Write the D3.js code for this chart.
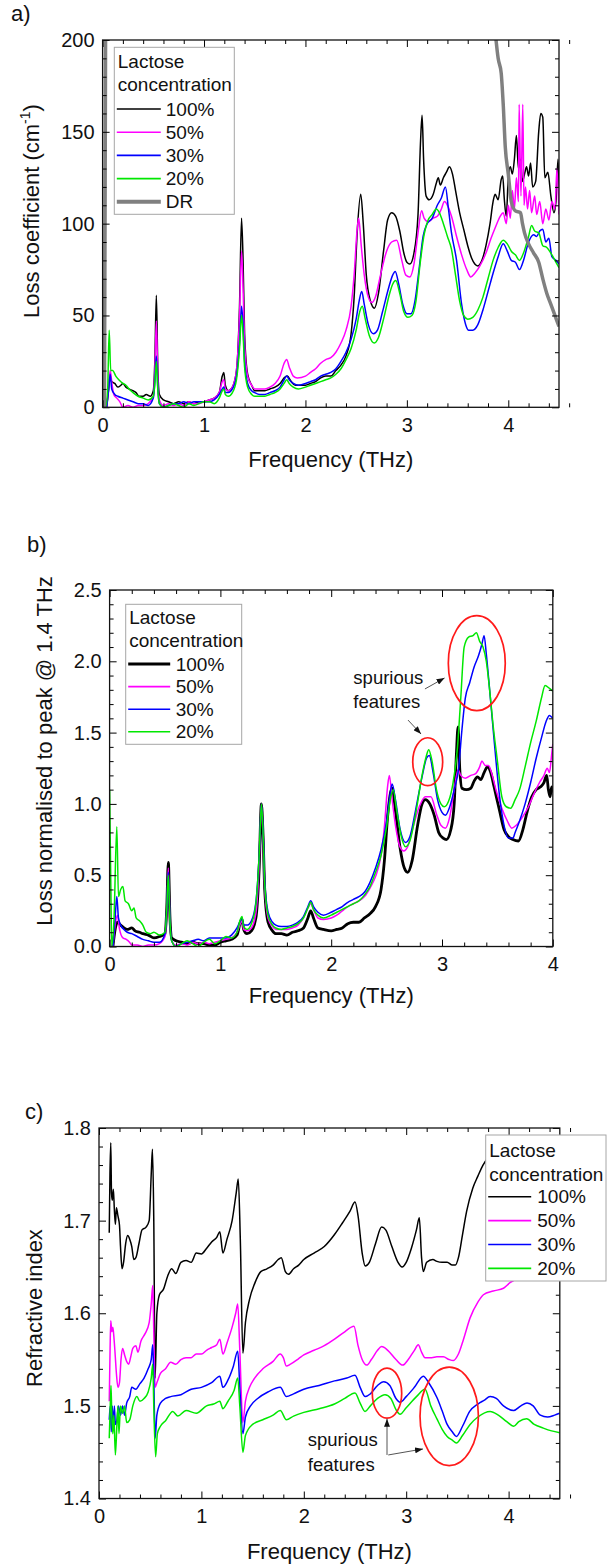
<!DOCTYPE html>
<html>
<head>
<meta charset="utf-8">
<script src="https://cdn.jsdelivr.net/npm/d3@7"></script>
<style>
  body { margin: 0; background: #fff; }
  svg { display: block; }
</style>
</head>
<body>
<svg id="fig" width="607" height="1568"></svg>
<script>
// ---------------- data ----------------
const concentrations = ["100%", "50%", "30%", "20%"];
const legendTitle = ["Lactose", "concentration"];

// (a) loss coefficient, cm^-1, vs frequency (THz)
const lossA100 = [[0.04,0],[0.06,10],[0.07,16],[0.09,14],[0.12,13],[0.15,11],[0.18,12],[0.2,13],[0.23,11],[0.26,10],[0.3,9],[0.33,8],[0.36,6],[0.4,6],[0.43,7],[0.47,6],[0.5,9],[0.515,25],[0.53,61],[0.545,20],[0.56,7],[0.6,4],[0.65,3],[0.7,2],[0.75,3],[0.8,2],[0.85,3],[0.9,2],[0.95,3],[1.0,3],[1.05,4],[1.1,5],[1.15,8],[1.18,17],[1.195,19],[1.21,12],[1.24,9],[1.28,11],[1.32,20],[1.35,55],[1.37,103],[1.385,80],[1.4,40],[1.43,18],[1.47,12],[1.5,9],[1.55,9],[1.6,9],[1.65,10],[1.7,11],[1.75,13],[1.79,16],[1.82,17],[1.86,14],[1.9,12],[1.95,12],[2.0,12],[2.05,13],[2.1,14],[2.15,16],[2.2,17],[2.25,17],[2.3,20],[2.35,23],[2.4,28],[2.45,40],[2.48,60],[2.51,95],[2.545,116],[2.57,100],[2.6,72],[2.64,58],[2.68,54],[2.72,62],[2.77,85],[2.81,102],[2.85,106],[2.89,104],[2.93,96],[2.97,84],[3.0,79],[3.03,78],[3.07,84],[3.11,105],[3.135,145],[3.15,159],[3.165,135],[3.19,115],[3.22,113],[3.26,116],[3.29,122],[3.31,125],[3.33,121],[3.36,125],[3.39,128],[3.42,131],[3.45,127],[3.48,118],[3.52,106],[3.56,97],[3.6,88],[3.64,81],[3.67,78],[3.7,77],[3.74,80],[3.78,88],[3.82,100],[3.85,112],[3.87,116],[3.9,113],[3.93,124],[3.945,126],[3.96,114],[3.98,104],[4.0,125],[4.02,131],[4.04,127],[4.06,135],[4.08,148],[4.1,130],[4.12,135],[4.14,123],[4.16,127],[4.18,131],[4.2,126],[4.22,133],[4.24,120],[4.27,123],[4.3,150],[4.32,160],[4.34,158],[4.36,125],[4.39,128],[4.42,115],[4.45,106],[4.47,112],[4.49,135],[4.5,120]];
const lossA50 = [[0.04,0],[0.06,12],[0.075,20],[0.09,14],[0.11,7],[0.14,5],[0.17,3],[0.2,0],[0.25,1],[0.3,0],[0.35,1],[0.4,1],[0.45,2],[0.5,6],[0.515,20],[0.53,47],[0.545,15],[0.56,4],[0.6,1],[0.65,2],[0.7,1],[0.75,2],[0.8,1],[0.85,3],[0.9,2],[0.95,2],[1.0,3],[1.05,4],[1.1,5],[1.15,8],[1.18,14],[1.195,15],[1.21,10],[1.24,9],[1.28,11],[1.32,20],[1.35,50],[1.37,85],[1.385,65],[1.4,35],[1.43,17],[1.47,12],[1.5,10],[1.55,10],[1.6,10],[1.65,11],[1.7,13],[1.75,17],[1.79,24],[1.815,26],[1.84,22],[1.88,17],[1.92,16],[2.0,17],[2.05,19],[2.1,21],[2.15,24],[2.2,26],[2.25,27],[2.3,30],[2.35,35],[2.4,42],[2.45,55],[2.48,72],[2.51,97],[2.525,103],[2.55,88],[2.58,72],[2.62,60],[2.655,57],[2.69,60],[2.74,72],[2.8,85],[2.85,90],[2.9,91],[2.95,80],[2.99,72],[3.03,71],[3.07,78],[3.11,95],[3.145,107],[3.17,103],[3.21,101],[3.26,103],[3.3,104],[3.34,108],[3.37,112],[3.4,110],[3.44,104],[3.49,93],[3.54,83],[3.59,75],[3.63,71],[3.67,73],[3.72,77],[3.78,84],[3.83,92],[3.88,99],[3.92,104],[3.95,106],[3.98,100],[4.0,110],[4.02,103],[4.04,118],[4.06,108],[4.08,125],[4.1,112],[4.107,165],[4.125,115],[4.143,165],[4.155,110],[4.17,120],[4.19,108],[4.21,118],[4.23,106],[4.26,115],[4.28,105],[4.31,112],[4.34,100],[4.37,108],[4.4,102],[4.43,112],[4.46,108],[4.48,130],[4.5,105]];
const lossA30 = [[0.04,0],[0.06,10],[0.075,18],[0.09,10],[0.12,7],[0.15,6],[0.2,5],[0.25,4],[0.3,3],[0.35,2],[0.4,2],[0.45,1],[0.5,5],[0.515,14],[0.53,28],[0.545,10],[0.56,2],[0.6,0],[0.65,1],[0.7,2],[0.75,2],[0.8,3],[0.85,2],[0.9,3],[0.95,3],[1.0,3],[1.05,3],[1.1,4],[1.15,7],[1.18,10],[1.195,11],[1.21,8],[1.24,8],[1.28,10],[1.32,17],[1.35,35],[1.37,55],[1.385,45],[1.4,25],[1.43,13],[1.47,9],[1.5,8],[1.55,7],[1.6,7],[1.65,8],[1.7,9],[1.75,11],[1.79,15],[1.815,17],[1.84,15],[1.88,13],[1.93,12],[2.0,13],[2.05,14],[2.1,15],[2.15,17],[2.2,18],[2.25,19],[2.3,21],[2.35,25],[2.4,30],[2.45,37],[2.5,48],[2.53,58],[2.555,63],[2.58,56],[2.62,45],[2.67,40],[2.71,42],[2.76,52],[2.82,65],[2.86,72],[2.885,74],[2.92,67],[2.96,56],[3.0,51],[3.04,51],[3.08,58],[3.12,75],[3.16,93],[3.2,100],[3.25,103],[3.3,110],[3.34,114],[3.38,120],[3.41,108],[3.44,95],[3.49,80],[3.54,56],[3.58,45],[3.61,42],[3.65,42],[3.7,45],[3.75,53],[3.8,63],[3.85,73],[3.9,82],[3.95,89],[3.99,85],[4.03,80],[4.07,79],[4.11,75],[4.15,80],[4.2,90],[4.25,94],[4.28,93],[4.31,96],[4.34,97],[4.37,90],[4.4,92],[4.43,82],[4.47,80],[4.5,78]];
const lossA20 = [[0.0,18],[0.02,5],[0.03,0],[0.05,10],[0.065,42],[0.08,20],[0.1,20],[0.13,17],[0.16,15],[0.2,13],[0.23,12],[0.26,10],[0.3,8],[0.35,6],[0.4,5],[0.45,4],[0.5,6],[0.515,13],[0.53,25],[0.545,9],[0.56,2],[0.6,0],[0.65,1],[0.7,2],[0.75,1],[0.8,0],[0.85,2],[0.9,1],[0.95,2],[1.0,3],[1.05,3],[1.1,2],[1.15,5],[1.18,9],[1.195,10],[1.21,7],[1.24,6],[1.28,8],[1.32,15],[1.35,32],[1.37,50],[1.385,40],[1.4,22],[1.43,11],[1.47,7],[1.5,6],[1.55,6],[1.6,6],[1.65,7],[1.7,8],[1.75,10],[1.79,13],[1.815,15],[1.84,13],[1.88,11],[1.93,10],[2.0,11],[2.05,12],[2.1,13],[2.15,14],[2.2,15],[2.25,16],[2.3,18],[2.35,21],[2.4,26],[2.45,32],[2.5,42],[2.535,52],[2.56,55],[2.59,48],[2.63,39],[2.68,35],[2.72,38],[2.77,48],[2.83,62],[2.86,67],[2.89,69],[2.93,62],[2.97,52],[3.01,49],[3.05,50],[3.09,58],[3.13,78],[3.17,94],[3.21,102],[3.25,105],[3.29,108],[3.32,106],[3.36,100],[3.4,93],[3.44,86],[3.48,72],[3.52,58],[3.56,50],[3.6,48],[3.65,49],[3.7,53],[3.75,60],[3.8,70],[3.85,80],[3.9,87],[3.95,91],[3.99,89],[4.03,85],[4.07,83],[4.11,80],[4.15,84],[4.2,93],[4.23,99],[4.26,96],[4.3,95],[4.34,88],[4.38,87],[4.42,84],[4.46,80],[4.5,76]];
// dynamic range: steep rise at the low end, falling edge at the high end
const drLow = [[0.018,0],[0.024,100],[0.03,215]];
const drHigh = [[3.87,205],[3.9,190],[3.93,182],[3.95,165],[3.97,142],[4.0,127],[4.03,112],[4.07,107],[4.12,106],[4.14,100],[4.16,95],[4.2,89],[4.25,84],[4.3,79],[4.34,70],[4.38,62],[4.42,56],[4.46,50],[4.5,44]];

// (b) loss normalised to the 1.4 THz peak
const normB100 = [[0.03,0],[0.05,0.12],[0.07,0.17],[0.1,0.15],[0.13,0.13],[0.16,0.12],[0.2,0.13],[0.23,0.11],[0.27,0.1],[0.3,0.09],[0.35,0.08],[0.4,0.06],[0.45,0.07],[0.5,0.09],[0.515,0.25],[0.53,0.59],[0.545,0.2],[0.56,0.06],[0.6,0.04],[0.65,0.03],[0.7,0.02],[0.75,0.03],[0.8,0.02],[0.85,0.02],[0.9,0.01],[0.95,0.01],[1.0,0.03],[1.05,0.04],[1.1,0.05],[1.15,0.08],[1.18,0.17],[1.195,0.19],[1.21,0.12],[1.24,0.09],[1.28,0.11],[1.32,0.2],[1.35,0.55],[1.37,1.0],[1.385,0.78],[1.4,0.4],[1.43,0.17],[1.47,0.11],[1.5,0.09],[1.55,0.09],[1.6,0.08],[1.65,0.1],[1.7,0.11],[1.75,0.13],[1.79,0.2],[1.815,0.25],[1.84,0.2],[1.88,0.13],[1.93,0.12],[2.0,0.11],[2.05,0.12],[2.1,0.13],[2.15,0.16],[2.2,0.17],[2.25,0.17],[2.3,0.2],[2.35,0.23],[2.4,0.28],[2.45,0.4],[2.48,0.6],[2.51,0.92],[2.55,1.11],[2.58,0.95],[2.62,0.7],[2.66,0.55],[2.69,0.52],[2.73,0.6],[2.78,0.85],[2.82,1.0],[2.85,1.03],[2.89,1.0],[2.93,0.92],[2.97,0.8],[3.01,0.76],[3.04,0.75],[3.08,0.82],[3.11,1.0],[3.13,1.35],[3.145,1.54],[3.16,1.25],[3.18,1.11],[3.22,1.1],[3.26,1.11],[3.29,1.16],[3.32,1.19],[3.35,1.17],[3.38,1.22],[3.41,1.26],[3.44,1.22],[3.47,1.12],[3.52,0.95],[3.56,0.82],[3.6,0.77],[3.64,0.75],[3.69,0.74],[3.73,0.82],[3.77,0.95],[3.81,1.05],[3.85,1.1],[3.89,1.12],[3.92,1.15],[3.945,1.2],[3.96,1.1],[3.975,1.05],[3.99,1.12],[4.0,1.08]];
const normB50 = [[0.03,0],[0.05,0.15],[0.07,0.22],[0.09,0.12],[0.12,0.06],[0.15,0.05],[0.18,0.03],[0.2,0.01],[0.25,0.01],[0.3,0],[0.35,0.01],[0.4,0.01],[0.45,0.02],[0.5,0.07],[0.515,0.23],[0.53,0.55],[0.545,0.17],[0.56,0.04],[0.6,0.01],[0.65,0.02],[0.7,0.01],[0.75,0.03],[0.8,0.02],[0.85,0.03],[0.9,0.02],[0.95,0.03],[1.0,0.04],[1.05,0.05],[1.1,0.06],[1.15,0.1],[1.18,0.16],[1.195,0.18],[1.21,0.12],[1.24,0.11],[1.28,0.13],[1.32,0.23],[1.35,0.58],[1.37,1.0],[1.385,0.76],[1.4,0.41],[1.43,0.2],[1.47,0.14],[1.5,0.12],[1.55,0.12],[1.6,0.12],[1.65,0.13],[1.7,0.15],[1.75,0.2],[1.79,0.27],[1.815,0.3],[1.84,0.26],[1.88,0.2],[1.93,0.19],[2.0,0.2],[2.05,0.22],[2.1,0.25],[2.15,0.28],[2.2,0.3],[2.25,0.32],[2.3,0.35],[2.35,0.41],[2.4,0.49],[2.45,0.64],[2.48,0.84],[2.51,1.13],[2.525,1.2],[2.55,1.03],[2.58,0.85],[2.62,0.7],[2.655,0.67],[2.69,0.7],[2.74,0.84],[2.8,0.99],[2.85,1.05],[2.9,1.05],[2.95,0.93],[2.99,0.85],[3.03,0.83],[3.07,0.91],[3.11,1.1],[3.145,1.24],[3.17,1.2],[3.21,1.18],[3.26,1.2],[3.3,1.21],[3.34,1.26],[3.36,1.3],[3.39,1.27],[3.42,1.27],[3.45,1.21],[3.49,1.09],[3.54,0.97],[3.59,0.88],[3.63,0.83],[3.67,0.85],[3.72,0.9],[3.78,0.98],[3.83,1.07],[3.88,1.15],[3.92,1.2],[3.95,1.25],[3.97,1.22],[3.99,1.35],[4.0,1.42]];
const normB30 = [[0.03,0],[0.05,0.2],[0.065,0.35],[0.08,0.2],[0.1,0.15],[0.13,0.12],[0.16,0.1],[0.2,0.09],[0.25,0.07],[0.3,0.05],[0.35,0.04],[0.4,0.03],[0.45,0.03],[0.5,0.09],[0.515,0.25],[0.53,0.52],[0.545,0.18],[0.56,0.04],[0.6,0.0],[0.65,0.02],[0.7,0.03],[0.75,0.04],[0.8,0.05],[0.85,0.04],[0.9,0.06],[0.95,0.06],[1.0,0.06],[1.05,0.06],[1.1,0.08],[1.15,0.13],[1.18,0.18],[1.195,0.2],[1.21,0.15],[1.24,0.15],[1.28,0.18],[1.32,0.31],[1.35,0.64],[1.37,1.0],[1.385,0.82],[1.4,0.46],[1.43,0.24],[1.47,0.17],[1.5,0.15],[1.55,0.14],[1.6,0.14],[1.65,0.15],[1.7,0.17],[1.75,0.21],[1.79,0.28],[1.815,0.32],[1.84,0.28],[1.88,0.24],[1.93,0.22],[2.0,0.24],[2.05,0.26],[2.1,0.28],[2.15,0.31],[2.2,0.33],[2.25,0.35],[2.3,0.38],[2.35,0.45],[2.4,0.55],[2.45,0.68],[2.5,0.88],[2.53,1.06],[2.55,1.14],[2.58,1.03],[2.62,0.83],[2.67,0.73],[2.71,0.77],[2.76,0.95],[2.82,1.19],[2.86,1.32],[2.885,1.34],[2.92,1.22],[2.96,1.03],[3.0,0.94],[3.03,0.92],[3.07,0.98],[3.11,1.1],[3.15,1.25],[3.18,1.52],[3.21,1.74],[3.25,1.85],[3.29,1.96],[3.33,2.04],[3.36,2.12],[3.38,2.18],[3.4,2.05],[3.43,1.8],[3.47,1.45],[3.52,1.05],[3.56,0.85],[3.6,0.76],[3.64,0.76],[3.66,0.8],[3.7,0.88],[3.75,1.0],[3.8,1.15],[3.85,1.32],[3.9,1.47],[3.94,1.58],[3.97,1.62],[4.0,1.6]];
const normB20 = [[0.0,1.1],[0.01,0.5],[0.02,0.0],[0.04,0.2],[0.065,0.84],[0.08,0.35],[0.1,0.4],[0.12,0.42],[0.14,0.32],[0.17,0.3],[0.2,0.25],[0.22,0.27],[0.24,0.2],[0.27,0.18],[0.3,0.15],[0.33,0.1],[0.37,0.09],[0.4,0.1],[0.45,0.08],[0.5,0.1],[0.515,0.25],[0.53,0.5],[0.545,0.17],[0.56,0.04],[0.6,0.0],[0.65,0.02],[0.7,0.04],[0.75,0.02],[0.8,0.0],[0.85,0.03],[0.9,0.05],[0.95,0.02],[1.0,0.04],[1.05,0.07],[1.1,0.06],[1.15,0.1],[1.18,0.19],[1.195,0.21],[1.21,0.14],[1.24,0.12],[1.28,0.16],[1.32,0.3],[1.35,0.64],[1.37,1.0],[1.385,0.8],[1.4,0.44],[1.43,0.22],[1.47,0.15],[1.5,0.13],[1.55,0.12],[1.6,0.13],[1.65,0.14],[1.7,0.16],[1.75,0.2],[1.79,0.27],[1.815,0.31],[1.84,0.26],[1.88,0.22],[1.93,0.2],[2.0,0.22],[2.05,0.24],[2.1,0.26],[2.15,0.28],[2.2,0.3],[2.25,0.32],[2.3,0.36],[2.35,0.42],[2.4,0.52],[2.45,0.64],[2.5,0.84],[2.535,1.04],[2.56,1.1],[2.59,0.96],[2.63,0.78],[2.67,0.7],[2.71,0.74],[2.76,0.92],[2.82,1.2],[2.86,1.34],[2.88,1.38],[2.91,1.3],[2.95,1.1],[2.99,1.0],[3.02,0.98],[3.06,1.02],[3.1,1.15],[3.14,1.4],[3.17,1.75],[3.2,2.1],[3.24,2.17],[3.28,2.18],[3.31,2.2],[3.34,2.14],[3.37,2.1],[3.4,2.0],[3.43,1.8],[3.46,1.56],[3.5,1.3],[3.54,1.05],[3.58,0.98],[3.62,0.97],[3.66,1.03],[3.7,1.1],[3.75,1.26],[3.8,1.43],[3.85,1.58],[3.9,1.75],[3.93,1.83],[3.97,1.81],[4.0,1.79]];

// (c) refractive index
const indexC100 = [[0.1,1.687],[0.107,1.75],[0.115,1.784],[0.122,1.73],[0.13,1.722],[0.14,1.734],[0.15,1.712],[0.16,1.696],[0.17,1.714],[0.185,1.705],[0.2,1.695],[0.21,1.672],[0.225,1.648],[0.24,1.655],[0.26,1.675],[0.28,1.684],[0.3,1.68],[0.32,1.672],[0.34,1.658],[0.36,1.66],[0.39,1.675],[0.42,1.69],[0.46,1.693],[0.49,1.7],[0.51,1.75],[0.522,1.777],[0.535,1.7],[0.548,1.53],[0.565,1.6],[0.59,1.62],[0.63,1.626],[0.67,1.64],[0.71,1.648],[0.75,1.643],[0.8,1.655],[0.85,1.657],[0.9,1.655],[0.95,1.665],[1.0,1.664],[1.05,1.67],[1.1,1.677],[1.15,1.682],[1.18,1.688],[1.21,1.665],[1.25,1.68],[1.3,1.7],[1.34,1.73],[1.36,1.745],[1.38,1.68],[1.405,1.557],[1.43,1.59],[1.47,1.615],[1.52,1.632],[1.58,1.645],[1.64,1.648],[1.7,1.652],[1.75,1.658],[1.78,1.66],[1.82,1.645],[1.85,1.642],[1.9,1.648],[1.95,1.652],[2.0,1.658],[2.1,1.665],[2.2,1.672],[2.3,1.685],[2.38,1.698],[2.45,1.71],[2.5,1.72],[2.53,1.705],[2.57,1.665],[2.6,1.651],[2.64,1.655],[2.7,1.675],[2.76,1.693],[2.8,1.69],[2.86,1.672],[2.92,1.655],[2.96,1.65],[3.0,1.655],[3.05,1.67],[3.1,1.69],[3.128,1.703],[3.15,1.66],[3.167,1.645],[3.2,1.655],[3.26,1.658],[3.3,1.656],[3.35,1.655],[3.4,1.655],[3.45,1.652],[3.48,1.652],[3.51,1.66],[3.55,1.685],[3.59,1.71],[3.65,1.735],[3.7,1.748],[3.75,1.76],[3.8,1.768],[3.9,1.775],[4.0,1.78],[4.2,1.785],[4.5,1.79]];
const indexC50 = [[0.1,1.505],[0.108,1.56],[0.115,1.592],[0.125,1.58],[0.135,1.585],[0.145,1.575],[0.155,1.56],[0.17,1.535],[0.185,1.52],[0.2,1.525],[0.215,1.55],[0.23,1.562],[0.25,1.555],[0.27,1.548],[0.29,1.545],[0.31,1.553],[0.33,1.562],[0.36,1.565],[0.38,1.558],[0.41,1.57],[0.45,1.578],[0.49,1.59],[0.51,1.61],[0.525,1.63],[0.535,1.58],[0.548,1.52],[0.565,1.525],[0.6,1.535],[0.65,1.54],[0.7,1.547],[0.75,1.545],[0.8,1.55],[0.85,1.552],[0.9,1.552],[0.95,1.556],[1.0,1.556],[1.05,1.56],[1.1,1.563],[1.15,1.566],[1.18,1.572],[1.21,1.556],[1.25,1.568],[1.3,1.585],[1.335,1.6],[1.355,1.61],[1.375,1.56],[1.405,1.482],[1.43,1.505],[1.47,1.52],[1.52,1.53],[1.6,1.54],[1.7,1.548],[1.77,1.556],[1.8,1.552],[1.83,1.543],[1.87,1.545],[1.95,1.551],[2.0,1.555],[2.1,1.56],[2.2,1.565],[2.3,1.572],[2.4,1.58],[2.49,1.586],[2.53,1.565],[2.57,1.55],[2.614,1.544],[2.66,1.55],[2.72,1.56],[2.76,1.564],[2.82,1.56],[2.9,1.55],[2.966,1.544],[3.02,1.55],[3.08,1.56],[3.118,1.566],[3.15,1.558],[3.184,1.552],[3.25,1.552],[3.3,1.553],[3.363,1.553],[3.42,1.55],[3.461,1.549],[3.51,1.556],[3.56,1.572],[3.624,1.595],[3.7,1.612],[3.754,1.62],[3.85,1.624],[3.95,1.627],[4.014,1.633],[4.06,1.636],[4.2,1.645],[4.5,1.66]];
const indexC30 = [[0.1,1.485],[0.11,1.5],[0.12,1.472],[0.13,1.5],[0.14,1.475],[0.15,1.5],[0.16,1.48],[0.175,1.485],[0.19,1.5],[0.21,1.49],[0.23,1.5],[0.25,1.49],[0.27,1.503],[0.3,1.51],[0.32,1.52],[0.36,1.518],[0.4,1.524],[0.44,1.53],[0.48,1.54],[0.51,1.55],[0.525,1.566],[0.535,1.53],[0.548,1.465],[0.565,1.49],[0.6,1.503],[0.65,1.508],[0.7,1.51],[0.8,1.512],[0.9,1.518],[1.0,1.52],[1.1,1.525],[1.18,1.532],[1.21,1.52],[1.26,1.528],[1.31,1.542],[1.355,1.559],[1.375,1.52],[1.405,1.47],[1.43,1.488],[1.48,1.5],[1.55,1.508],[1.65,1.515],[1.77,1.52],[1.83,1.51],[1.9,1.513],[2.0,1.518],[2.15,1.522],[2.3,1.527],[2.42,1.53],[2.5,1.533],[2.55,1.52],[2.6,1.51],[2.65,1.513],[2.72,1.522],[2.78,1.526],[2.84,1.522],[2.9,1.508],[2.94,1.504],[3.0,1.51],[3.08,1.52],[3.167,1.532],[3.22,1.525],[3.3,1.509],[3.35,1.495],[3.4,1.48],[3.45,1.472],[3.49,1.467],[3.55,1.478],[3.62,1.494],[3.7,1.502],[3.76,1.506],[3.82,1.51],[3.88,1.508],[3.95,1.5],[4.05,1.495],[4.12,1.5],[4.18,1.503],[4.24,1.5],[4.31,1.49],[4.38,1.488],[4.45,1.49],[4.5,1.492]];
const indexC20 = [[0.1,1.465],[0.11,1.5],[0.117,1.522],[0.125,1.49],[0.135,1.47],[0.145,1.49],[0.16,1.447],[0.175,1.48],[0.185,1.5],[0.195,1.47],[0.21,1.5],[0.23,1.492],[0.25,1.5],[0.27,1.482],[0.3,1.485],[0.33,1.5],[0.37,1.51],[0.4,1.505],[0.44,1.508],[0.48,1.515],[0.51,1.53],[0.525,1.545],[0.535,1.5],[0.553,1.445],[0.57,1.47],[0.6,1.478],[0.65,1.484],[0.72,1.494],[0.77,1.489],[0.85,1.495],[0.95,1.492],[1.05,1.5],[1.12,1.502],[1.18,1.505],[1.21,1.497],[1.26,1.505],[1.32,1.517],[1.355,1.53],[1.375,1.5],[1.405,1.45],[1.43,1.468],[1.5,1.48],[1.6,1.485],[1.7,1.49],[1.77,1.495],[1.83,1.485],[1.9,1.489],[2.0,1.493],[2.15,1.497],[2.3,1.502],[2.4,1.508],[2.5,1.514],[2.55,1.503],[2.598,1.494],[2.65,1.5],[2.72,1.508],[2.793,1.512],[2.85,1.508],[2.9,1.496],[2.94,1.491],[3.0,1.498],[3.1,1.51],[3.184,1.518],[3.24,1.5],[3.3,1.486],[3.35,1.475],[3.4,1.467],[3.45,1.463],[3.49,1.46],[3.55,1.468],[3.624,1.48],[3.7,1.488],[3.82,1.494],[3.9,1.49],[3.982,1.483],[4.05,1.478],[4.1,1.483],[4.176,1.486],[4.25,1.48],[4.339,1.476],[4.42,1.473],[4.5,1.471]];

// tick values
const ticksA_x = [0, 1, 2, 3, 4];
const ticksA_y = [0, 50, 100, 150, 200];
const ticksB_x = [0, 1, 2, 3, 4];
const ticksB_y = [0, 0.5, 1.0, 1.5, 2.0, 2.5];
const ticksC_x = [0, 1, 2, 3, 4];
const ticksC_y = [1.4, 1.5, 1.6, 1.7, 1.8];

// ---------------- styles ----------------
const FONT = "'Liberation Sans', Arial, Helvetica, sans-serif";
const COLORS = { "100%": "#000000", "50%": "#ff00ff", "30%": "#0000ff", "20%": "#00e800", "DR": "#808080" };

const svg = d3.select("#fig");
svg.append("rect").attr("width", 607).attr("height", 1568).attr("fill", "#fff");
const defs = svg.append("defs");
defs.append("marker").attr("id", "arrowhead")
  .attr("viewBox", "0 0 8 6").attr("refX", 8).attr("refY", 3)
  .attr("markerWidth", 8).attr("markerHeight", 6)
  .attr("markerUnits", "userSpaceOnUse").attr("orient", "auto")
  .append("path").attr("d", "M0,0 L8,3 L0,6 Z").attr("fill", "#111");

const minorTicks = (lo, hi, step, majors) =>
  d3.range(Math.round((hi - lo) / step) + 1).map(i => lo + i * step)
    .filter(v => !majors.some(m => Math.abs(m - v) < step / 10));

function drawPanel(p) {
  const b = p.box;
  const x = d3.scaleLinear().domain(p.xDomain).range([b.left, b.right]);
  const y = d3.scaleLinear().domain(p.yDomain).range([b.bottom, b.top]);
  const g = svg.append("g");

  defs.append("clipPath").attr("id", "clip-" + p.id)
    .append("rect").attr("x", b.left).attr("y", b.top)
    .attr("width", b.right - b.left).attr("height", b.bottom - b.top);

  const line = d3.line().x(d => x(d[0])).y(d => y(d[1])).curve(d3.curveMonotoneX);
  const plot = g.append("g").attr("clip-path", `url(#clip-${p.id})`);
  p.series.forEach(s => {
    plot.append("path").datum(s.values)
      .attr("fill", "none").attr("stroke", s.color).attr("stroke-width", s.width)
      .attr("stroke-linejoin", "round").attr("d", line);
  });

  const addAxis = (gen, tx, ty) => g.append("g")
    .attr("transform", `translate(${tx},${ty})`).call(gen)
    .call(a => a.select(".domain").remove())
    .attr("font-size", 20).attr("font-family", FONT)
    .call(a => a.selectAll("text").attr("fill", "#111"));

  const xMin = minorTicks(p.xDomain[0], p.xDomain[1], p.xMinorStep, p.xTicks);
  const yMin = minorTicks(p.yDomain[0], p.yDomain[1], p.yMinorStep, p.yTicks);

  addAxis(d3.axisBottom(x).tickValues(p.xTicks).tickSizeInner(-7).tickSizeOuter(0).tickPadding(10.5).tickFormat(d3.format("d")), 0, b.bottom);
  addAxis(d3.axisBottom(x).tickValues(xMin).tickSizeInner(-4).tickSizeOuter(0).tickFormat(""), 0, b.bottom);
  addAxis(d3.axisTop(x).tickValues(p.xTicks).tickSizeInner(-7).tickSizeOuter(0).tickFormat(""), 0, b.top);
  addAxis(d3.axisTop(x).tickValues(xMin).tickSizeInner(-4).tickSizeOuter(0).tickFormat(""), 0, b.top);
  addAxis(d3.axisLeft(y).tickValues(p.yTicks).tickSizeInner(-7).tickSizeOuter(0).tickPadding(8).tickFormat(p.yFormat), b.left, 0);
  addAxis(d3.axisLeft(y).tickValues(yMin).tickSizeInner(-4).tickSizeOuter(0).tickFormat(""), b.left, 0);
  addAxis(d3.axisRight(y).tickValues(p.yTicks).tickSizeInner(-7).tickSizeOuter(0).tickFormat(""), b.right, 0);
  addAxis(d3.axisRight(y).tickValues(yMin).tickSizeInner(-4).tickSizeOuter(0).tickFormat(""), b.right, 0);

  g.append("rect").attr("x", b.left).attr("y", b.top)
    .attr("width", b.right - b.left).attr("height", b.bottom - b.top)
    .attr("fill", "none").attr("stroke", "#111").attr("stroke-width", 1.3);

  // x title
  g.append("text").attr("x", (b.left + b.right) / 2).attr("y", p.xTitleY)
    .attr("text-anchor", "middle").attr("font-family", FONT).attr("font-size", 22)
    .attr("fill", "#111").text("Frequency (THz)");

  // y title
  const yt = g.append("text").attr("transform", `translate(${p.yTitle.x},${p.yTitle.y}) rotate(-90)`)
    .attr("text-anchor", "middle").attr("font-family", FONT).attr("font-size", 22).attr("fill", "#111");
  p.yTitle.parts.forEach(part => {
    const t = yt.append("tspan").text(part.text);
    if (part.sup) t.attr("font-size", 14).attr("dy", -9);
    if (part.after) t.attr("dy", 9);
  });

  // panel tag
  g.append("text").attr("x", p.tag.x).attr("y", p.tag.y)
    .attr("font-family", FONT).attr("font-size", 22).attr("fill", "#111").text(p.tag.text);

  // legend
  const L = p.legend;
  const lg = g.append("g");
  lg.append("rect").attr("x", L.x).attr("y", L.y).attr("width", L.w).attr("height", L.h)
    .attr("fill", "#fff").attr("stroke", "#a6a6a6").attr("stroke-width", 1);
  legendTitle.forEach((t, i) => {
    lg.append("text").attr("x", L.x + 3.5).attr("y", L.titleY[i])
      .attr("font-family", FONT).attr("font-size", 19).attr("fill", "#111").text(t);
  });
  L.items.forEach((it, i) => {
    const yy = L.firstY + i * L.step;
    lg.append("line").attr("x1", L.x + 2.5).attr("x2", L.x + 2.5 + L.lineLen)
      .attr("y1", yy).attr("y2", yy).attr("stroke", it.color).attr("stroke-width", it.width);
    lg.append("text").attr("x", L.x + L.textDx).attr("y", yy + 6.5)
      .attr("font-family", FONT).attr("font-size", 19).attr("fill", "#111").text(it.label);
  });

  return { x, y, g };
}

function annotate(panel, notes) {
  const { x, y, g } = panel;
  notes.ellipses.forEach(e => {
    g.append("ellipse")
      .attr("cx", x(e.f)).attr("cy", y(e.v))
      .attr("rx", x(e.f + e.df) - x(e.f)).attr("ry", y(e.v) - y(e.v + e.dv))
      .attr("fill", "none").attr("stroke", "#ff1a1a").attr("stroke-width", 1.7);
  });
  notes.text.forEach(t => {
    g.append("text").attr("x", x(t.f)).attr("y", y(t.v))
      .attr("font-family", FONT).attr("font-size", 18.5).attr("fill", "#111").text(t.text);
  });
  notes.arrows.forEach(a => {
    g.append("line")
      .attr("x1", x(a.from[0])).attr("y1", y(a.from[1]))
      .attr("x2", x(a.to[0])).attr("y2", y(a.to[1]))
      .attr("stroke", "#555").attr("stroke-width", 1)
      .attr("marker-end", "url(#arrowhead)");
  });
}

// ---------------- panel a ----------------
drawPanel({
  id: "a",
  box: { left: 102.6, right: 559, top: 40, bottom: 407.3 },
  xDomain: [0, 4.5], yDomain: [0, 200],
  xTicks: ticksA_x, yTicks: ticksA_y, xMinorStep: 0.2, yMinorStep: 10,
  yFormat: d3.format("d"),
  series: [
    { values: lossA100, color: COLORS["100%"], width: 1.5 },
    { values: lossA50, color: COLORS["50%"], width: 1.5 },
    { values: lossA30, color: COLORS["30%"], width: 1.5 },
    { values: lossA20, color: COLORS["20%"], width: 1.5 },
    { values: drLow, color: COLORS["DR"], width: 3.5 },
    { values: drHigh, color: COLORS["DR"], width: 3.5 }
  ],
  xTitleY: 466.5,
  yTitle: { x: 39, y: 211, parts: [{ text: "Loss coefficient (cm" }, { text: "-1", sup: true }, { text: ")", after: true }] },
  tag: { text: "a)", x: 11, y: 21 },
  legend: {
    x: 114.3, y: 47.3, w: 120, h: 167, titleY: [68.3, 91], firstY: 109, step: 23.2,
    lineLen: 44, textDx: 51.5,
    items: [
      { label: concentrations[0], color: COLORS["100%"], width: 1.6 },
      { label: concentrations[1], color: COLORS["50%"], width: 1.6 },
      { label: concentrations[2], color: COLORS["30%"], width: 1.6 },
      { label: concentrations[3], color: COLORS["20%"], width: 1.6 },
      { label: "DR", color: COLORS["DR"], width: 4 }
    ]
  }
});

// ---------------- panel b ----------------
const pb = drawPanel({
  id: "b",
  box: { left: 109.6, right: 552.8, top: 590, bottom: 946.5 },
  xDomain: [0, 4], yDomain: [0, 2.5],
  xTicks: ticksB_x, yTicks: ticksB_y, xMinorStep: 0.2, yMinorStep: 0.1,
  yFormat: d3.format(".1f"),
  series: [
    { values: normB100, color: COLORS["100%"], width: 2.8 },
    { values: normB50, color: COLORS["50%"], width: 1.5 },
    { values: normB30, color: COLORS["30%"], width: 1.5 },
    { values: normB20, color: COLORS["20%"], width: 1.5 }
  ],
  xTitleY: 1003,
  yTitle: { x: 52, y: 751, parts: [{ text: "Loss normalised to peak @ 1.4 THz" }] },
  tag: { text: "b)", x: 27, y: 552 },
  legend: {
    x: 125.7, y: 604.3, w: 116, h: 140, titleY: [624, 647], firstY: 664, step: 22.6,
    lineLen: 42, textDx: 50,
    items: [
      { label: concentrations[0], color: COLORS["100%"], width: 3.2 },
      { label: concentrations[1], color: COLORS["50%"], width: 1.6 },
      { label: concentrations[2], color: COLORS["30%"], width: 1.6 },
      { label: concentrations[3], color: COLORS["20%"], width: 1.6 }
    ]
  }
});
annotate(pb, {
  ellipses: [
    { f: 2.871, v: 1.296, df: 0.135, dv: 0.168 },
    { f: 3.314, v: 1.987, df: 0.257, dv: 0.333 }
  ],
  text: [
    { text: "spurious", f: 2.2, v: 1.84 },
    { text: "features", f: 2.2, v: 1.67 }
  ],
  arrows: [
    { from: [2.846, 1.806], to: [3.023, 1.883] },
    { from: [2.693, 1.588], to: [2.811, 1.49] }
  ]
});

// ---------------- panel c ----------------
const pc = drawPanel({
  id: "c",
  box: { left: 99, right: 559.8, top: 1128, bottom: 1498.5 },
  xDomain: [0, 4.5], yDomain: [1.4, 1.8],
  xTicks: ticksC_x, yTicks: ticksC_y, xMinorStep: 0.2, yMinorStep: 0.02,
  yFormat: d3.format(".1f"),
  series: [
    { values: indexC100, color: COLORS["100%"], width: 1.5 },
    { values: indexC50, color: COLORS["50%"], width: 1.5 },
    { values: indexC30, color: COLORS["30%"], width: 1.5 },
    { values: indexC20, color: COLORS["20%"], width: 1.5 }
  ],
  xTitleY: 1559,
  yTitle: { x: 41.5, y: 1308, parts: [{ text: "Refractive index" }] },
  tag: { text: "c)", x: 25, y: 1119 },
  legend: {
    x: 485.7, y: 1135, w: 120.3, h: 146, titleY: [1156.7, 1180.5], firstY: 1196.7, step: 23.9,
    lineLen: 43, textDx: 51.6,
    items: [
      { label: concentrations[0], color: COLORS["100%"], width: 1.6 },
      { label: concentrations[1], color: COLORS["50%"], width: 1.6 },
      { label: concentrations[2], color: COLORS["30%"], width: 1.6 },
      { label: concentrations[3], color: COLORS["20%"], width: 1.6 }
    ]
  }
});
annotate(pc, {
  ellipses: [
    { f: 2.8125, v: 1.5137, df: 0.1436, dv: 0.027 },
    { f: 3.42, v: 1.4887, df: 0.285, dv: 0.0532 }
  ],
  text: [
    { text: "spurious", f: 2.039, v: 1.4562 },
    { text: "features", f: 2.039, v: 1.4297 }
  ],
  arrows: [
    { from: [2.8125, 1.447], to: [2.8125, 1.486] },
    { from: [2.825, 1.447], to: [3.164, 1.4535] }
  ]
});
</script>
</body>
</html>
